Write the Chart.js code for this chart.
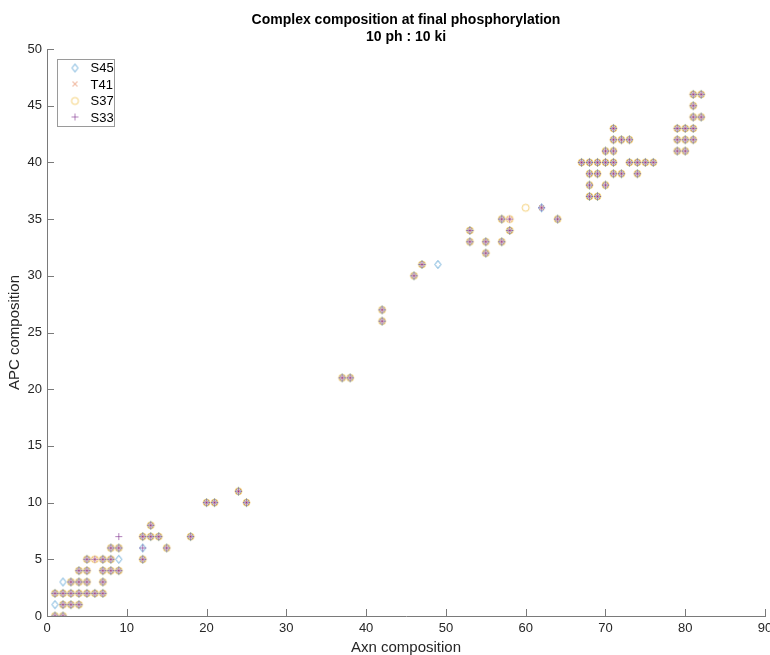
<!DOCTYPE html>
<html>
<head>
<meta charset="utf-8">
<script src="https://cdn.jsdelivr.net/npm/chart.js@4.4.1/dist/chart.umd.min.js"></script>
<style>
  html, body { margin: 0; padding: 0; background: #fff; }
  #wrap { width: 770px; height: 655px; }
</style>
</head>
<body>
<div id="wrap"><canvas id="id_chart" width="770" height="655"></canvas></div>
<script>
// points shared by all four sites (Axn, APC)
var sharedX = [1, 2,  2, 3, 4,  1, 2, 3, 4, 5, 6, 7,  3, 4, 5, 7,  4, 5, 7, 8, 9,  5, 7, 8, 12,  8, 9, 15,
               12, 13, 14, 18,  13,  20, 21, 25,  24,  37, 38,  42, 42,  46, 47,  55,  53, 55, 57,  53, 58,  57, 64,
               68, 69,  68, 70,  68, 69, 71, 72, 74,  67, 68, 69, 70, 71, 73, 74, 75, 76,  70, 71, 79, 80,
               71, 72, 73, 79, 80, 81,  71, 79, 80, 81,  81, 82,  81,  81, 82];
var sharedY = [0, 0,  1, 1, 1,  2, 2, 2, 2, 2, 2, 2,  3, 3, 3, 3,  4, 4, 4, 4, 4,  5, 5, 5, 5,  6, 6, 6,
               7, 7, 7, 7,  8,  10, 10, 10,  11,  21, 21,  26, 27,  30, 31,  32,  33, 33, 33,  34, 34,  35, 35,
               37, 37,  38, 38,  39, 39, 39, 39, 39,  40, 40, 40, 40, 40, 40, 40, 40, 40,  41, 41, 41, 41,
               42, 42, 42, 42, 42, 42,  43, 43, 43, 43,  44, 44,  45,  46, 46];

// points only some sites reach
var s45ExtraX = [1, 2, 9, 12, 49, 62];
var s45ExtraY = [1, 3, 5, 6, 31, 36];
var t41ExtraX = [6, 58, 62];
var t41ExtraY = [5, 35, 36];
var s37ExtraX = [6, 58, 60];
var s37ExtraY = [5, 35, 36];
var s33ExtraX = [6, 9, 12, 58, 62];
var s33ExtraY = [5, 7, 6, 35, 36];

var seriesNames = ["S45", "T41", "S37", "S33"];
var seriesColors = ["#0072BD", "#D95319", "#EDB120", "#7E2F8E"];
var seriesShapes = ["diamond", "x", "circle", "plus"];

var xTicks = [0, 10, 20, 30, 40, 50, 60, 70, 80, 90];
var yTicks = [0, 5, 10, 15, 20, 25, 30, 35, 40, 45, 50];

var FONT = "'Liberation Sans', Arial, Helvetica, sans-serif";
var TEXT_COLOR = "#262626";
var AXIS_COLOR = "#7a7a7a";

var _toPoints = function( xs, ys ){
    var i, out = [];
    for( i=0; i<xs.length; i++ ){
        out.push({ x: xs[i], y: ys[i] });
    }
    return out;
};

// small canvases used as point style (and again in the legend)
var _makeMarker = function( shape, color ){
    var c = document.createElement("canvas");
    c.width = 11; c.height = 11;
    var g = c.getContext("2d");
    g.globalAlpha = 0.6; // matlab's thin lines come out pale
    g.strokeStyle = color;
    g.lineWidth = 1;
    g.beginPath();
    if( shape === "diamond" ){
        g.moveTo(5.5, 1.5); g.lineTo(8.5, 5.5); g.lineTo(5.5, 9.5); g.lineTo(2.5, 5.5); g.closePath();
    }else if( shape === "x" ){
        g.moveTo(3, 3); g.lineTo(8, 8); g.moveTo(8, 3); g.lineTo(3, 8);
    }else if( shape === "circle" ){
        g.arc(5.5, 5.5, 3.5, 0, Math.PI*2);
    }else{
        g.moveTo(5.5, 2); g.lineTo(5.5, 9); g.moveTo(2, 5.5); g.lineTo(9, 5.5);
    }
    g.stroke();
    return c;
};

var markers = seriesShapes.map(function(s, i){ return _makeMarker(s, seriesColors[i]); });

var extras = [
    [s45ExtraX, s45ExtraY],
    [t41ExtraX, t41ExtraY],
    [s37ExtraX, s37ExtraY],
    [s33ExtraX, s33ExtraY]
];

var datasets = seriesNames.map(function(name, i){
    return {
        label: name,
        data: _toPoints(sharedX.concat(extras[i][0]), sharedY.concat(extras[i][1])),
        pointStyle: markers[i],
        pointRadius: 4,
        borderColor: seriesColors[i],
        backgroundColor: seriesColors[i],
        order: 4 - i   // S33 ends up on top
    };
});

// title, inward ticks and boxed legend, as matlab draws them
var matlabDecor = {
    id: "matlabDecor",
    afterDraw: function(chart){
        var ctx = chart.ctx, area = chart.chartArea;
        var xs = chart.scales.x, ys = chart.scales.y;
        var cx = (area.left + area.right) / 2;

        ctx.save();
        ctx.fillStyle = "#000";
        ctx.font = "bold 14px " + FONT;
        ctx.textAlign = "center";
        ctx.textBaseline = "middle";
        ctx.fillText("Complex composition at final phosphorylation", cx, 20);
        ctx.fillText("10 ph : 10 ki", cx, 37);

        ctx.strokeStyle = AXIS_COLOR;
        ctx.lineWidth = 1;
        ctx.beginPath();
        xTicks.forEach(function(v){
            var px = Math.round(xs.getPixelForValue(v)) + 0.5;
            ctx.moveTo(px, area.bottom);
            ctx.lineTo(px, area.bottom - 7);
        });
        yTicks.forEach(function(v){
            var py = Math.round(ys.getPixelForValue(v)) + 0.5;
            ctx.moveTo(area.left, py);
            ctx.lineTo(area.left + 7, py);
        });
        ctx.stroke();

        // legend box
        var bx = 57.5, by = 59.5, bw = 57, bh = 67;
        ctx.fillStyle = "#fff";
        ctx.fillRect(bx, by, bw, bh);
        ctx.strokeStyle = "#9a9a9a";
        ctx.strokeRect(bx, by, bw, bh);
        ctx.font = "13px " + FONT;
        ctx.textAlign = "left";
        ctx.fillStyle = "#000";
        seriesNames.forEach(function(name, i){
            var ry = 67.5 + i * 16.5;
            ctx.drawImage(markers[i], 75 - 5.5, Math.round(ry) - 5.5);
            ctx.fillText(name, 90.5, ry + 1);
        });
        ctx.restore();
    }
};

var ctx = document.getElementById("id_chart").getContext("2d");
var myChart = new Chart(ctx, {
    type: "scatter",
    data: { datasets: datasets },
    options: {
        responsive: false,
        animation: false,
        events: [],
        layout: { padding: { top: 49, right: 5, left: 0, bottom: 0 } },
        plugins: {
            legend: { display: false },
            tooltip: { enabled: false },
            title: { display: false }
        },
        scales: {
            x: {
                type: "linear",
                min: 0, max: 90,
                afterBuildTicks: function(scale){ scale.ticks = xTicks.map(function(v){ return { value: v }; }); },
                afterFit: function(scale){
                    scale.height = 39;
                    scale.paddingRight = 0; // let "90" hang over the edge like the original
                    scale.paddingLeft = 0;
                },
                grid: { display: false, drawTicks: false },
                border: { display: true, color: AXIS_COLOR, width: 1 },
                ticks: { color: TEXT_COLOR, font: { family: FONT, size: 13 }, padding: 5, maxRotation: 0 },
                title: {
                    display: true, text: "Axn composition", color: TEXT_COLOR,
                    font: { family: FONT, size: 15, lineHeight: 1 }, padding: { top: 0, bottom: 0 }
                }
            },
            y: {
                type: "linear",
                min: 0, max: 50,
                afterBuildTicks: function(scale){ scale.ticks = yTicks.map(function(v){ return { value: v }; }); },
                afterFit: function(scale){ scale.width = 47; },
                grid: { display: false, drawTicks: false },
                border: { display: true, color: AXIS_COLOR, width: 1 },
                ticks: { color: TEXT_COLOR, font: { family: FONT, size: 13 }, padding: 5 },
                title: {
                    display: true, text: "APC composition", color: TEXT_COLOR,
                    font: { family: FONT, size: 15 }, padding: { top: 6, bottom: 0 }
                }
            }
        }
    },
    plugins: [matlabDecor]
});
</script>
</body>
</html>
